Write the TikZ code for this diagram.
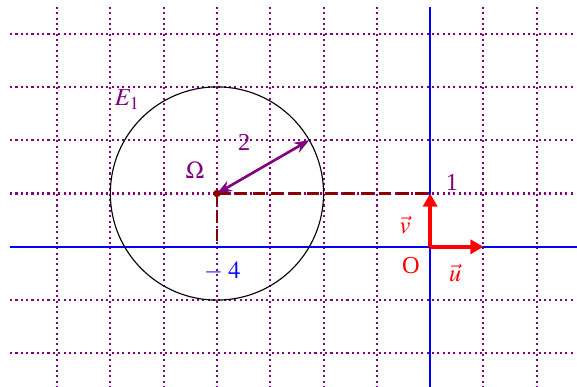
\documentclass[tikz,border=0pt]{standalone}
\usepackage{mathptmx}
\usepackage{fontspec}
\setmainfont{Liberation Serif}
\usetikzlibrary{arrows.meta,calc}
\definecolor{gridpurple}{RGB}{128,0,128}
\definecolor{darkred}{RGB}{140,0,0}
\tikzset{
  gridline/.style={gridpurple, line width=1.1pt, dash pattern=on 1.1pt off 1.75pt},
  axisline/.style={blue, line width=0.9pt},
  vecarrow/.style={red, line width=1.9pt, -{Triangle[length=7pt,width=7.5pt]}},
  proj/.style={darkred, line width=1.2pt, dash pattern=on 6.4pt off 3.2pt},
  lbl/.style={font=\fontsize{13}{15}\selectfont, inner sep=1pt}
}
\begin{document}
\begin{tikzpicture}[x=1cm,y=1cm]
\useasboundingbox (-8.07,-2.63) rectangle (2.755,4.63);
% grid
\foreach \x in {-7,...,2} {\ifnum\x=0\else\draw[gridline] (\x,4.5) -- (\x,-2.63);\fi}
\foreach \y in {-2,...,4} {\ifnum\y=0\else\draw[gridline] (-7.88,\y) -- (2.73,\y);\fi}
% axes
\draw[axisline] (-7.88,0) -- (2.755,0);
\draw[axisline] (0,-2.63) -- (0,4.5);
% points
\coordinate (O) at (0,0);
\coordinate (U) at (1,0);
\coordinate (V) at (0,1);
\coordinate (Om) at (-4,1);
\coordinate (Xp) at (-4,0);
\coordinate (P) at ($(-4,1)+(30:2)$);
% circle
\draw[black, line width=0.6pt] (Om) circle (2);
% projections
\draw[proj] (Om) -- (V);
\draw[proj] (Om) -- (Xp);
% radius
\draw[gridpurple, line width=1.4pt, {Stealth[length=8pt,width=6pt]}-{Stealth[length=8pt,width=6pt]}] (Om) -- (P);
\fill[darkred] (Om) circle (0.07);
% vectors
\draw[vecarrow] (O) -- (U);
\draw[vecarrow] (O) -- (V);
% labels
\node[lbl, gridpurple] (l1) at (0.41,1.20) {1};
\node[lbl, red] (lv) at (-0.47,0.41) {$\vec{v}$};
\node[lbl, red] (lO) at (-0.36,-0.36) {O};
\node[lbl, red] (lu) at (0.47,-0.49) {$\vec{u}$};
\node[lbl, blue] (lm4) at (-3.9,-0.47) {$-\;4$};
\node[lbl, gridpurple] (lOm) at (-4.41,1.43) {$\Omega$};
\node[lbl, gridpurple] (l2) at (-3.49,1.95) {2};
\node[lbl, gridpurple] (lE) at (-5.68,2.76) {$E_1$};
\end{tikzpicture}
\end{document}
